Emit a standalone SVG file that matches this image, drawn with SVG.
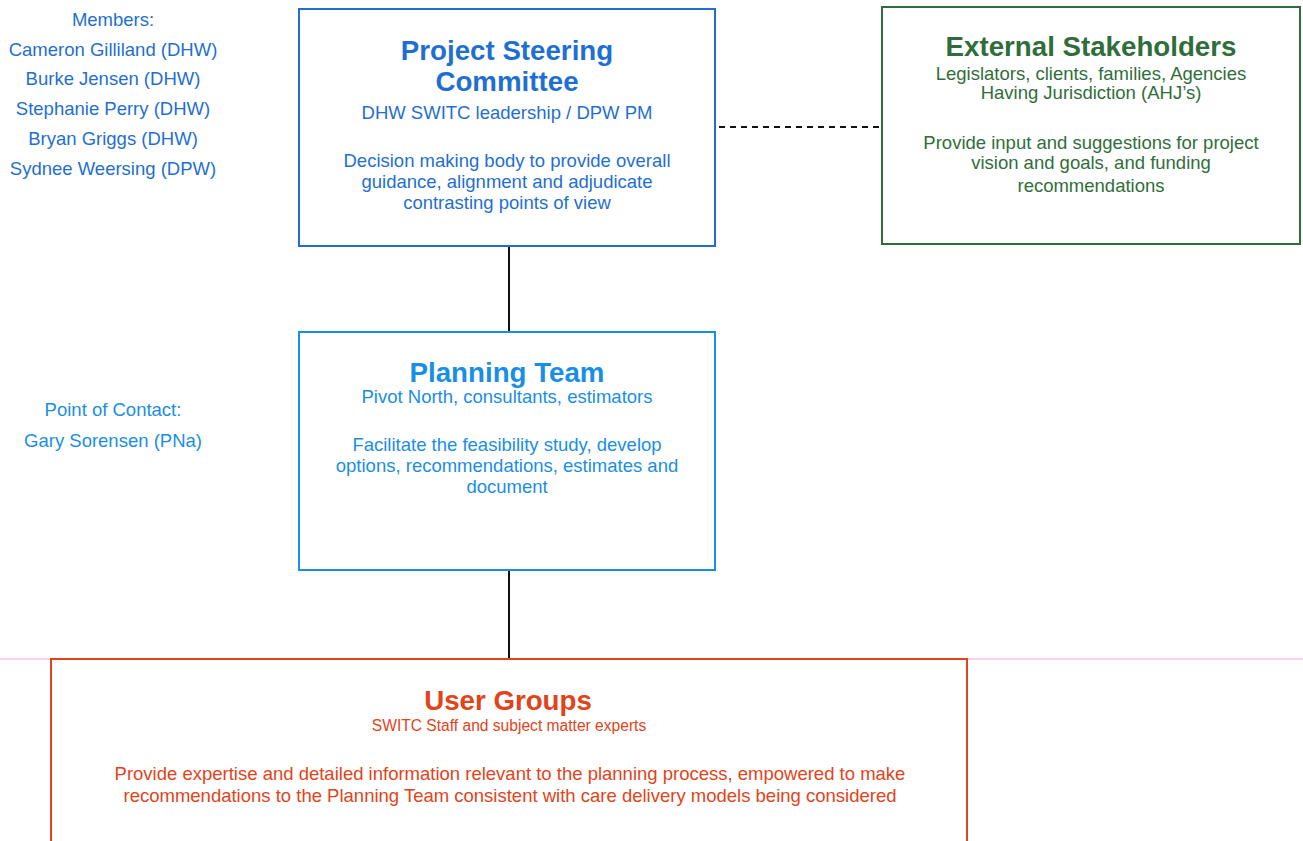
<svg xmlns="http://www.w3.org/2000/svg" width="1303" height="841" viewBox="0 0 1303 841">
<style>
text{font-family:"Liberation Sans",Arial,sans-serif;text-anchor:middle}
.t{font-size:27.7px;font-weight:bold}
.s{font-size:18.5px}
.ss{font-size:15.6px}
.b1{fill:#1f6fd2}
.b2{fill:#1a8ee6}
.g{fill:#2f6e3a}
.r{fill:#e2441a}
.box{fill:#fff;stroke-width:2}
</style>
<rect width="1303" height="841" fill="#fff"/>
<line x1="0" y1="659" x2="1303" y2="659" stroke="#f7c4e4" stroke-width="1.5"/>
<g id="connectors" stroke="#111" stroke-width="2" fill="none">
<line x1="509" y1="246" x2="509" y2="332"/>
<line x1="509" y1="570" x2="509" y2="659"/>
<line x1="719" y1="127" x2="882" y2="127" stroke-dasharray="6,5"/>
</g>
<g id="members" class="b1 s">
<text x="113" y="26">Members:</text>
<text x="113" y="56">Cameron Gilliland (DHW)</text>
<text x="113" y="85">Burke Jensen (DHW)</text>
<text x="113" y="115">Stephanie Perry (DHW)</text>
<text x="113" y="145">Bryan Griggs (DHW)</text>
<text x="113" y="175">Sydnee Weersing (DPW)</text>
</g>
<g id="contact" class="b2 s">
<text x="113" y="416">Point of Contact:</text>
<text x="113" y="447">Gary Sorensen (PNa)</text>
</g>
<g id="steering">
<rect class="box" x="299" y="9" width="416" height="237" stroke="#1f6fd2"/>
<text class="t b1" x="507" y="60">Project Steering</text>
<text class="t b1" x="507" y="91">Committee</text>
<text class="s b1" x="507" y="119">DHW SWITC leadership / DPW PM</text>
<text class="s b1" x="507" y="167">Decision making body to provide overall</text>
<text class="s b1" x="507" y="188">guidance, alignment and adjudicate</text>
<text class="s b1" x="507" y="209">contrasting points of view</text>
</g>
<g id="external">
<rect class="box" x="882" y="7" width="418" height="237" stroke="#2f6e3a"/>
<text class="t g" x="1091" y="56">External Stakeholders</text>
<text class="s g" x="1091" y="80">Legislators, clients, families, Agencies</text>
<text class="s g" x="1091" y="99">Having Jurisdiction (AHJ’s)</text>
<text class="s g" x="1091" y="149">Provide input and suggestions for project</text>
<text class="s g" x="1091" y="169">vision and goals, and funding</text>
<text class="s g" x="1091" y="192">recommendations</text>
</g>
<g id="planning">
<rect class="box" x="299" y="332" width="416" height="238" stroke="#1a8ee6"/>
<text class="t b2" x="507" y="382">Planning Team</text>
<text class="s b2" x="507" y="403">Pivot North, consultants, estimators</text>
<text class="s b2" x="507" y="451">Facilitate the feasibility study, develop</text>
<text class="s b2" x="507" y="472">options, recommendations, estimates and</text>
<text class="s b2" x="507" y="493">document</text>
</g>
<g id="usergroups">
<rect class="box" x="51" y="659" width="916" height="200" stroke="#e2441a"/>
<text class="t r" x="508" y="710">User Groups</text>
<text class="ss r" x="509" y="731">SWITC Staff and subject matter experts</text>
<text class="s r" x="510" y="780">Provide expertise and detailed information relevant to the planning process, empowered to make</text>
<text class="s r" x="510" y="802">recommendations to the Planning Team consistent with care delivery models being considered</text>
</g>
</svg>
